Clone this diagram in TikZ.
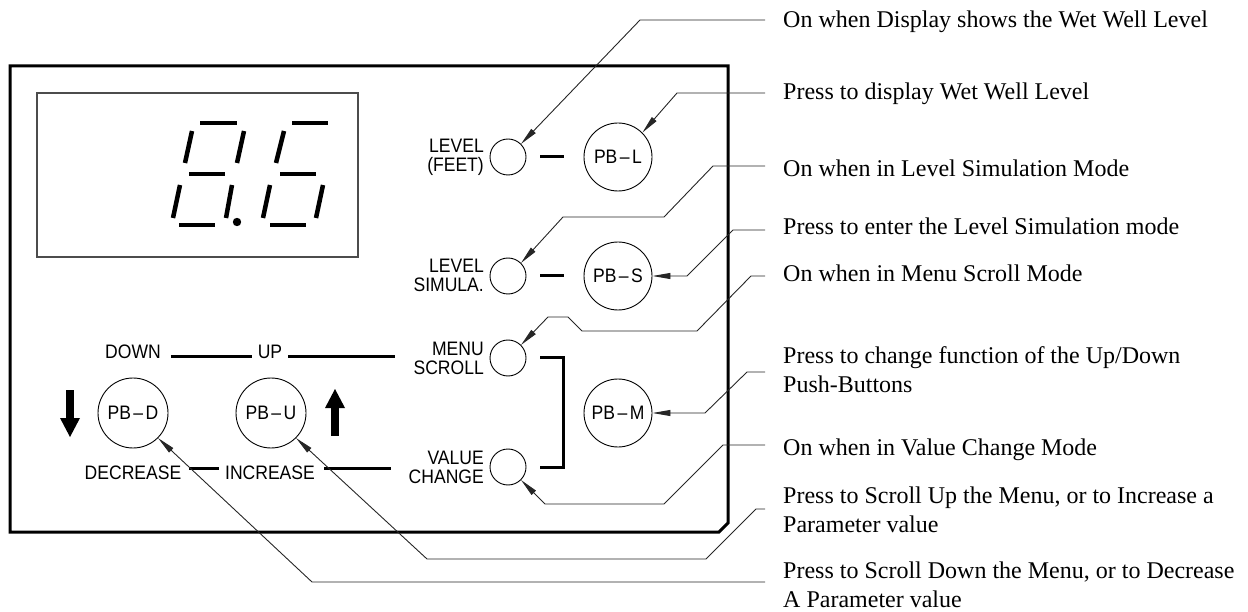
\documentclass[tikz,border=0pt]{standalone}
\usepackage{fontspec}
\setmainfont{Liberation Serif}
\newfontfamily\cadfont[FakeStretch=0.9]{Liberation Sans}
\usetikzlibrary{arrows.meta,calc}
\begin{document}
\begin{tikzpicture}[x=1pt,y=-1pt,
  leader/.style={line width=0.9pt, draw=black!85},
  ldr/.style={-{Triangle[length=18pt,width=6pt]}},
  thickline/.style={line width=3pt},
  led/.style={circle,draw,line width=0.9pt,minimum size=36pt,inner sep=0pt},
  pb/.style={circle,draw,line width=0.9pt,minimum size=68pt,inner sep=0pt,font=\cadfont\fontsize{19.5}{19}\selectfont},
  lab/.style={inner sep=0pt,font=\cadfont\fontsize{19.5}{19}\selectfont,align=right},
  desc/.style={inner sep=0pt,anchor=base west,font=\fontsize{24}{28.5}\selectfont,align=left},
  seg/.style={line width=4.5pt}
]
\useasboundingbox (0,0) rectangle (1248,612);

% panel
\draw[line width=3pt] (10,66) -- (728,66) -- (728,523) -- (719,532) -- (10,532) -- cycle;
% display
\draw[line width=1.2pt, draw=black!70] (37,93) rectangle (358,257);
% digit 8
\draw[seg] (200,123) -- (237,123);
\draw[seg] (192,131) -- (185,163);
\draw[seg] (244,131) -- (237,163);
\draw[seg] (189,174) -- (225,174);
\draw[seg] (180,185) -- (173,218);
\draw[seg] (232,185) -- (226,218);
\draw[seg] (179,225) -- (215,225);
\fill (237,222) circle (4.2);
% digit 6
\draw[seg] (292,123) -- (328,123);
\draw[seg] (284,131) -- (276,163);
\draw[seg] (280,174) -- (316,174);
\draw[seg] (270,185) -- (263,218);
\draw[seg] (323,185) -- (316,218);
\draw[seg] (270,225) -- (306,225);

% LEDs and push buttons
\node[led] (l1) at (508,157) {};
\node[led] (l2) at (508,276) {};
\node[led] (l3) at (508,358) {};
\node[led] (l4) at (508,467) {};
\node[pb] (pbl) at (618,157) {PB\kern2.5pt\textendash\kern2.5pt L};
\node[pb] (pbs) at (618,276) {PB\kern2.5pt\textendash\kern2.5pt S};
\node[pb] (pbm) at (618,413) {PB\kern2.5pt\textendash\kern2.5pt M};
\node[pb,minimum size=70pt] (pbd) at (133,413) {PB\kern2.5pt\textendash\kern2.5pt D};
\node[pb,minimum size=70pt] (pbu) at (271,413) {PB\kern2.5pt\textendash\kern2.5pt U};

% labels
\node[lab,anchor=east] (feet) at (484,157) {LEVEL\\(FEET)};
\node[lab,anchor=east] (sim) at (484,275) {LEVEL\\SIMULA.};
\node[lab,anchor=east] (menu) at (484,358) {MENU\\SCROLL};
\node[lab,anchor=east] (val) at (484,467) {VALUE\\CHANGE};
\node[lab] (down) at (133,352) {DOWN};
\node[lab] (up) at (270,352) {UP};
\node[lab] (dec) at (133,473) {DECREASE};
\node[lab] (inc) at (270,473) {INCREASE};

% thick connectors
\draw[thickline] ([xshift=14pt]l1.east) -- ([xshift=-20pt]pbl.west);
\draw[thickline] ([xshift=14pt]l2.east) -- ([xshift=-20pt]pbs.west);
\draw[thickline] ([xshift=14pt]l3.east) -- ++(23,0) |- ([xshift=14pt]l4.east);
\draw[thickline] ($(down.east)+(10,5)$) -- ($(up.west)+(-6,5)$);
\draw[thickline] ($(up.east)+(6,5)$) -- ($(menu.west)+(-18,-1)$);
\draw[thickline] ($(dec.east)+(8,-5)$) -- ($(inc.west)+(-6,-5)$);
\draw[thickline] ($(inc.east)+(9,-5)$) -- ($(val.west)+(-18,1)$);

% up/down arrows
\fill (66,390) rectangle (74,418);
\fill (60,418) -- (80,418) -- (70,437) -- cycle;
\fill (331,408) rectangle (339,436);
\fill (325,408) -- (345,408) -- (335,389) -- cycle;

% descriptions
\node[desc] (t1) at (783,28) {On when Display shows the Wet Well Level};
\node[desc] (t2) at (783,100) {Press to display Wet Well Level};
\node[desc] (t3) at (783,177) {On when in Level Simulation Mode};
\node[desc] (t4) at (783,235) {Press to enter the Level Simulation mode};
\node[desc] (t5) at (783,282) {On when in Menu Scroll Mode};
\node[desc] (t6) at (783,392) {Press to change function of the Up/Down\\Push-Buttons};
\node[desc] (t7) at (783,455) {On when in Value Change Mode};
\node[desc] (t8) at (783,532) {Press to Scroll Up the Menu, or to Increase a\\Parameter value};
\node[desc] (t9) at (783,607) {Press to Scroll Down the Menu, or to Decrease\\A Parameter value};

% leader start points
\coordinate (s1) at (765,20);
\coordinate (s2) at (765,93);
\coordinate (s3) at (765,166);
\coordinate (s4) at (765,230);
\coordinate (s5) at (765,276);
\coordinate (s6) at (765,372);
\coordinate (s7) at (765,445);
\coordinate (s8) at (765,509);
\coordinate (s9) at (765,582);

% leaders
\draw[leader,ldr] (s1) -- (640,20) -- (l1.45);
\draw[leader,ldr] (s2) -- (677,93) -- (pbl.45);
\draw[leader,ldr] (s3) -- (713,166) -- (664,217) -- (563,217) -- (l2.45);
\draw[leader,ldr] (s4) -- (733,230) -- (687,276) -- (pbs.east);
\draw[leader,ldr] (s5) -- (751,276) -- (697,331) -- (582,331) -- (568,317) -- (548,317) -- (l3.45);
\draw[leader,ldr] (s6) -- (747,372) -- (705,413) -- (pbm.east);
\draw[leader,ldr] (s7) -- (723,445) -- (664,504) -- (545,504) -- (l4.-45);
\draw[leader,ldr] (s8) -- (756,509) -- (706,559) -- (427,559) -- (pbu.-45);
\draw[leader,ldr] (s9) -- (312,582) -- (pbd.-45);
\end{tikzpicture}
\end{document}
